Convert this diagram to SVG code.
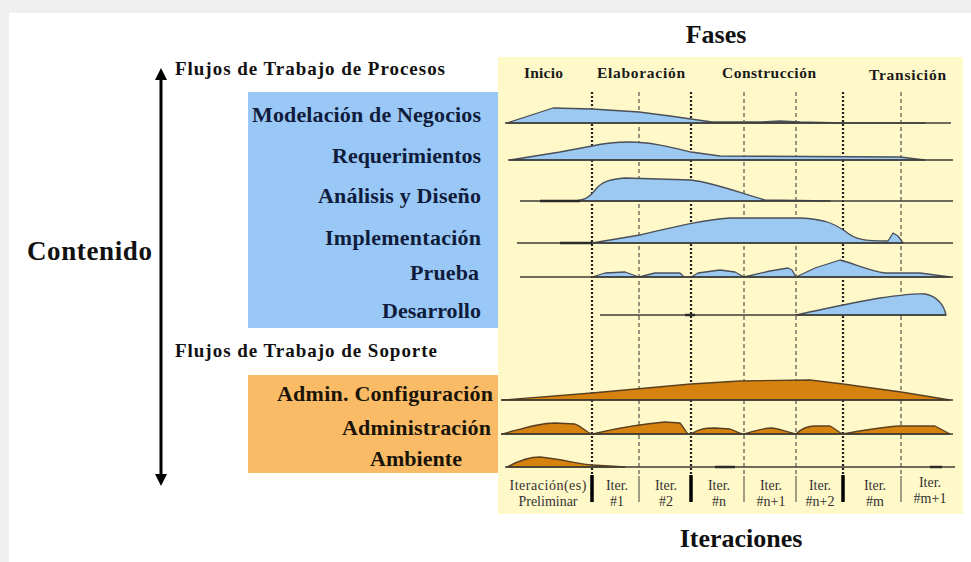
<svg xmlns="http://www.w3.org/2000/svg" width="971" height="562" viewBox="0 0 971 562">
<defs>
<style>
.t{font-family:"Liberation Serif","Times New Roman",serif;font-weight:bold;fill:#111}
.lb{font-family:"Liberation Serif","Times New Roman",serif;font-weight:bold;fill:#101c3c;font-size:22px;text-anchor:end}
.lo{font-family:"Liberation Serif","Times New Roman",serif;font-weight:bold;fill:#1a1408;font-size:22px;text-anchor:end}
.ph{font-family:"Liberation Serif","Times New Roman",serif;font-weight:bold;fill:#1a1a1a;font-size:15.5px}
.it{font-family:"Liberation Serif","Times New Roman",serif;fill:#333;font-size:14px;text-anchor:middle}
.bf{fill:#9cc9f2;stroke:#4a4f58;stroke-width:1.3;stroke-linejoin:round}
.of{fill:#d6820f;stroke:#5a4020;stroke-width:1.3;stroke-linejoin:round}
.base{stroke:#3c3c36;stroke-width:1.5;fill:none}
.dph{stroke:#222;stroke-width:2.2;stroke-dasharray:2 2;fill:none}
.dit{stroke:#333;stroke-width:1;stroke-dasharray:4 3;fill:none}
.bar{stroke:#000;stroke-width:3.5}
.thin{stroke:#444;stroke-width:1}
</style>
<marker id="ah" viewBox="0 0 10 10" refX="5" refY="5" markerWidth="4" markerHeight="4" orient="auto-start-reverse">
<path d="M0,0 L10,5 L0,10 z" fill="#000"/>
</marker>
</defs>
<rect x="0" y="0" width="971" height="562" fill="#efefef"/>
<rect x="9" y="13" width="962" height="549" fill="#ffffff"/>
<rect x="498" y="57" width="465" height="457" fill="#fff8c8"/>
<g id="fases"><text class="t" x="716" y="43" font-size="26" text-anchor="middle">Fases</text></g>
<g id="phases">
<text class="ph" x="524" y="78" textLength="39">Inicio</text>
<text class="ph" x="597" y="78" textLength="88">Elaboración</text>
<text class="ph" x="722" y="78" textLength="94">Construcción</text>
<text class="ph" x="869" y="80" textLength="77">Transición</text>
</g>
<g id="contenido"><text class="t" x="27" y="260" font-size="27" textLength="125">Contenido</text></g>
<g id="flujos-procesos"><text class="t" x="175" y="75" font-size="19" textLength="270">Flujos de Trabajo de Procesos</text></g>
<g id="flujos-soporte"><text class="t" x="175" y="357" font-size="19" textLength="262">Flujos de Trabajo de Soporte</text></g>
<g id="proceso-box"><rect x="248" y="92" width="250" height="236" fill="#99c8f6"/></g>
<g id="soporte-box"><rect x="248" y="375" width="250" height="98" fill="#f9bb66"/></g>
<g id="labels">
<text class="lb" x="481" y="122" textLength="229">Modelación de Negocios</text>
<text class="lb" x="481" y="163" textLength="149">Requerimientos</text>
<text class="lb" x="481" y="203" textLength="163">Análisis y Diseño</text>
<text class="lb" x="481" y="245" textLength="156">Implementación</text>
<text class="lb" x="479" y="280" textLength="69">Prueba</text>
<text class="lb" x="481" y="318" textLength="99">Desarrollo</text>
<text class="lo" x="493" y="401" textLength="216">Admin. Configuración</text>
<text class="lo" x="491" y="435" textLength="149">Administración</text>
<text class="lo" x="462" y="466" textLength="92">Ambiente</text>
</g>
<g id="connectors">
<line x1="161" y1="74" x2="161" y2="480" stroke="#000" stroke-width="3" marker-start="url(#ah)" marker-end="url(#ah)"/>
<line class="dph" x1="592" y1="92" x2="592" y2="476"/>
<line class="dph" x1="691" y1="92" x2="691" y2="476"/>
<line class="dph" x1="843" y1="92" x2="843" y2="476"/>
<line class="dit" x1="639" y1="92" x2="639" y2="476"/>
<line class="dit" x1="744" y1="92" x2="744" y2="476"/>
<line class="dit" x1="796" y1="92" x2="796" y2="476"/>
<line class="dit" x1="901" y1="92" x2="901" y2="476"/>
</g>
<g id="curves">
<path class="bf" d="M507,123 L553,108 L592,109 L639,112 L670,116 L691,119 L712,122 L760,122 L780,121 L800,122 L843,123 L925,123 Z"/>
<line class="base" x1="505" y1="123" x2="951" y2="123"/>
<path class="bf" d="M510,160 L560,152 L592,146 C605,143 615,142 630,142 C650,142 670,147 691,152 L720,156 L900,157 L925,160 Z"/>
<line class="base" x1="508" y1="160" x2="953" y2="160"/>
<path class="bf" d="M575,201 C585,200 590,197 596,189 C602,181 612,179 625,178 L691,180 C715,183 740,193 765,200 L830,201 Z"/>
<line class="base" x1="520" y1="201" x2="953" y2="201"/>
<line x1="540" y1="201" x2="580" y2="201" stroke="#2a2a2a" stroke-width="2.5"/>
<path class="bf" d="M592,243 L640,235 C670,228 700,220 730,218 L800,218 C825,219 835,224 845,231 C855,240 865,241 888,241 L893,233 L898,236 L903,243 Z"/>
<line class="base" x1="517" y1="243" x2="953" y2="243"/>
<line x1="560" y1="243" x2="592" y2="243" stroke="#2a2a2a" stroke-width="2.5"/>
<path class="bf" d="M592,277 L605,273 L625,272 L639,277 L655,273 L680,273 L684,277 L691,277 L698,273 L720,270 L735,272 L744,277 L770,271 L788,268 L792,270 L796,277 L815,268 L840,260 C855,264 870,271 885,273 L920,273 L950,277 Z"/>
<line class="base" x1="520" y1="277" x2="953" y2="277"/>
<path class="bf" d="M796,315 C820,310 850,303 880,298 C900,295 915,293 925,294 C937,296 944,305 946,315 Z"/>
<line class="base" x1="600" y1="315" x2="946" y2="315"/>
<line x1="685" y1="315" x2="695" y2="315" stroke="#2a2a2a" stroke-width="2.5"/>
<path class="of" d="M502,400 L592,393 L691,384 L740,381 L810,380 L843,384 L901,392 L950,400 Z"/>
<line class="base" x1="501" y1="400" x2="953" y2="400"/>
<path class="of" d="M502,434 C525,428 540,423 555,423 L575,424 C582,426 585,432 592,434 C610,430 630,425 665,422 L680,423 C684,428 686,432 688,434 L691,434 C697,431 700,428 715,428 L730,429 C736,431 740,434 744,434 C755,431 762,428 772,428 C780,429 788,432 796,434 C800,430 805,426 815,426 L830,426 C836,429 838,432 843,434 C865,430 880,427 900,426 L935,426 L950,434 Z"/>
<line class="base" x1="501" y1="434" x2="953" y2="434"/>
<path class="of" d="M507,467 C520,460 530,457 540,457 C560,459 580,464 592,465 L625,467 Z"/>
<line class="base" x1="505" y1="467" x2="955" y2="467"/>
<line x1="715" y1="467" x2="735" y2="467" stroke="#2a2a2a" stroke-width="2.5"/>
<line x1="930" y1="467" x2="942" y2="467" stroke="#2a2a2a" stroke-width="2.5"/>
</g>
<g id="iter-separators">
<line class="bar" x1="592" y1="475" x2="592" y2="502"/>
<line class="bar" x1="691" y1="475" x2="691" y2="502"/>
<line class="bar" x1="843" y1="475" x2="843" y2="502"/>
<line class="thin" x1="639" y1="476" x2="639" y2="502"/>
<line class="thin" x1="744" y1="476" x2="744" y2="502"/>
<line class="thin" x1="796" y1="476" x2="796" y2="502"/>
<line class="thin" x1="901" y1="476" x2="901" y2="502"/>
</g>
<g id="iteraciones-labels">
<text class="it" x="548" y="490" textLength="77">Iteración(es)</text><text class="it" x="548" y="506">Preliminar</text>
<text class="it" x="617" y="490">Iter.</text><text class="it" x="617" y="506">#1</text>
<text class="it" x="666" y="490">Iter.</text><text class="it" x="666" y="506">#2</text>
<text class="it" x="719" y="490">Iter.</text><text class="it" x="719" y="506">#n</text>
<text class="it" x="771" y="490">Iter.</text><text class="it" x="771" y="506">#n+1</text>
<text class="it" x="820" y="490">Iter.</text><text class="it" x="820" y="506">#n+2</text>
<text class="it" x="875" y="490">Iter.</text><text class="it" x="875" y="506">#m</text>
<text class="it" x="930" y="487">Iter.</text><text class="it" x="930" y="503">#m+1</text>
</g>
<g id="iteraciones"><text class="t" x="741" y="547" font-size="26" text-anchor="middle">Iteraciones</text></g>
</svg>
